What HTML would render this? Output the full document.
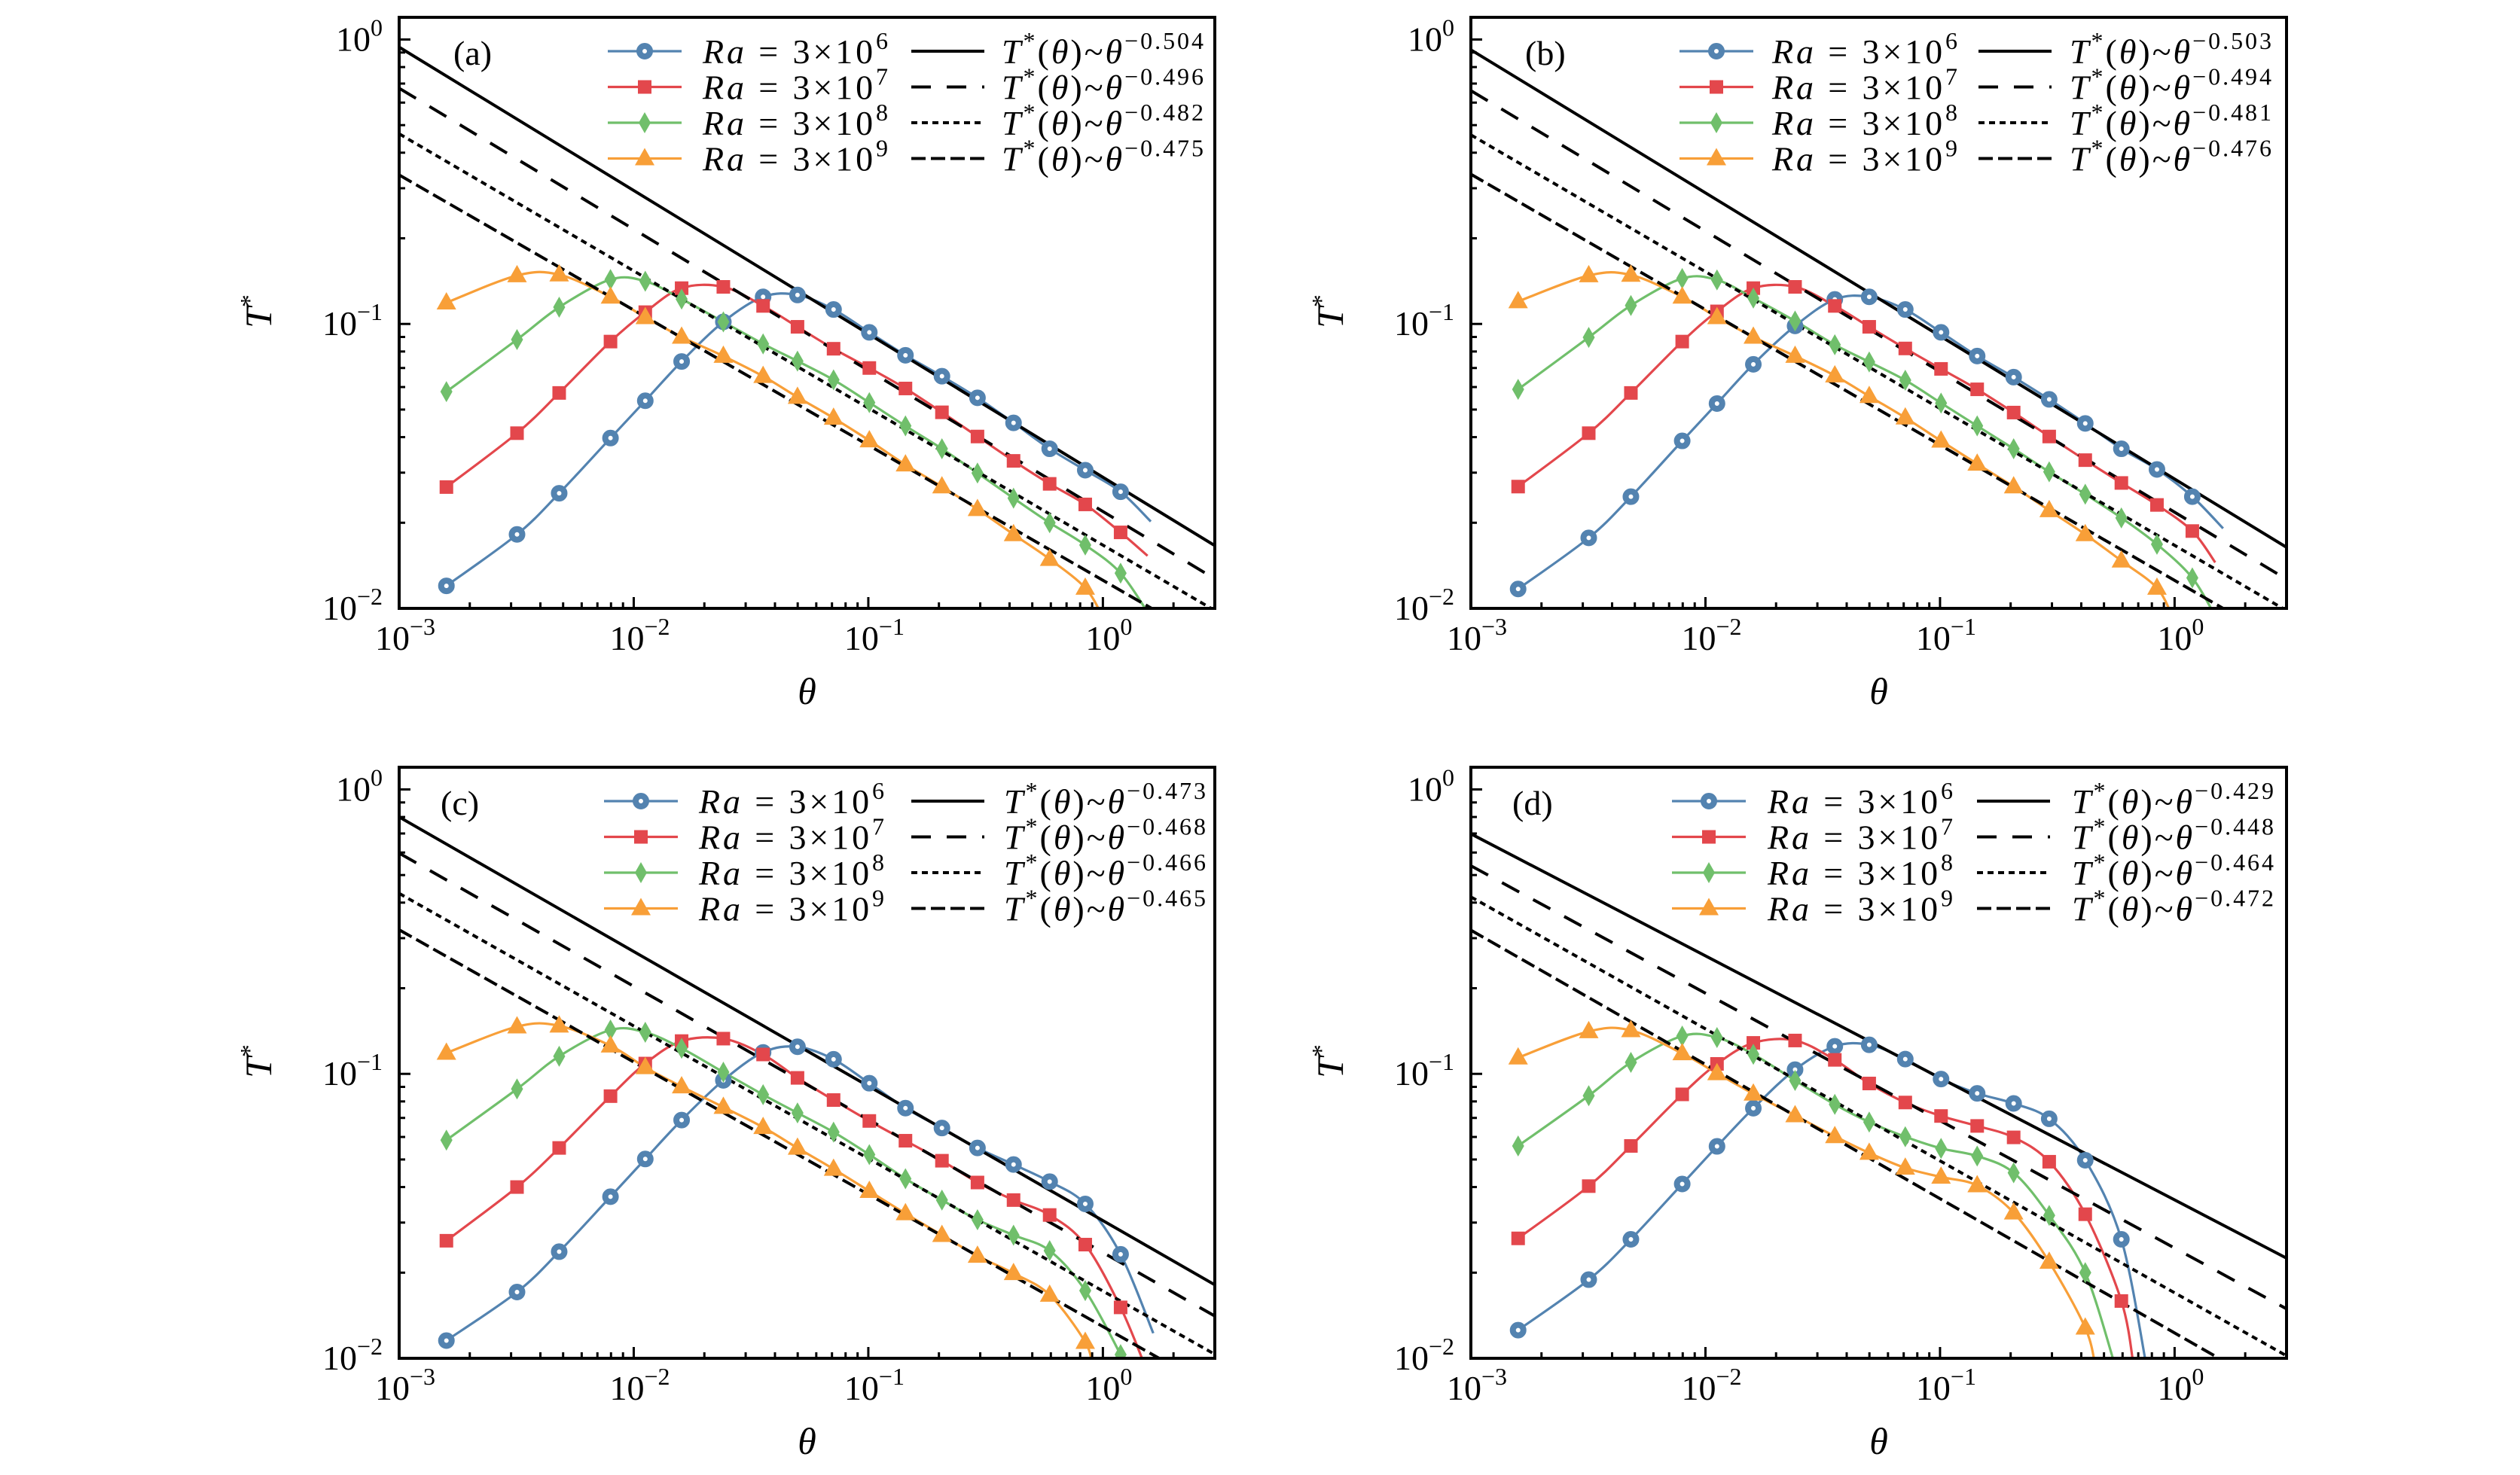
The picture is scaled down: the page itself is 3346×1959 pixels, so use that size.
<!DOCTYPE html>
<html><head><meta charset="utf-8"><style>
html,body{margin:0;padding:0;background:#fff;}
svg{display:block;font-family:"Liberation Serif",serif;}
svg text{font-family:"Liberation Serif",serif;}
</style></head><body>
<svg id="fig" width="3346" height="1959" viewBox="0 0 3346 1959" xmlns="http://www.w3.org/2000/svg" font-family="Liberation Serif, serif"></svg>
<script>
const theta = [0.00159,0.00318,0.00481,0.00796,0.0112,0.016,0.0241,0.0356,0.0499,0.0711,0.101,0.144,0.206,0.292,0.416,0.593,0.841,1.19];
const raLabels = ['6','7','8','9'];
// panel (a)
const blueA = [0.0120,0.0182,0.0254,0.0397,0.0537,0.0738,0.1017,0.1245,0.1264,0.1124,0.0934,0.0776,0.0655,0.0550,0.0449,0.0364,0.0306,0.0257];
const redA = [0.0267,0.0413,0.0572,0.0867,0.110,0.1336,0.135,0.1157,0.0977,0.0818,0.070,0.0593,0.0489,0.0402,0.0330,0.0274,0.0232,0.0185];
const greenA = [0.0578,0.0881,0.1145,0.1433,0.1413,0.1223,0.1017,0.0851,0.0740,0.0636,0.0529,0.0438,0.0364,0.0299,0.0244,0.0200,0.0167,0.0133];
const orangeA = [0.1188,0.148,0.149,0.1245,0.1055,0.090,0.0771,0.0655,0.0553,0.0467,0.0389,0.0320,0.0268,0.0223,0.0182,0.0149,0.0118];
const tailsA = [[1.6,0.0202],[1.55,0.0153],[1.6,0.0093],[1.0,0.0093]];
const fitExpA = [0.504,0.496,0.482,0.475];
const fitAmpA = [0.94,0.674,0.466,0.334];
// panel (b)
const blueB = [0.0117,0.0177,0.0247,0.0388,0.0525,0.0721,0.0984,0.122,0.1245,0.1124,0.0934,0.0771,0.065,0.0543,0.0447,0.0364,0.0308,0.0247];
const redB = [0.0268,0.0413,0.0572,0.0867,0.1107,0.1336,0.135,0.1157,0.0977,0.082,0.0695,0.0589,0.0488,0.0402,0.0332,0.0276,0.0231,0.0187];
const greenB = [0.0589,0.0897,0.1161,0.1445,0.1428,0.1233,0.1024,0.0845,0.0735,0.0634,0.0527,0.0438,0.0364,0.0302,0.0252,0.0208,0.0168,0.0128];
const orangeB = [0.120,0.148,0.1486,0.1245,0.1055,0.090,0.0771,0.0658,0.0557,0.0468,0.0388,0.0322,0.0268,0.0221,0.0182,0.0147,0.0118];
const tailsB = [[1.61,0.0191],[1.49,0.0145],[1.5,0.0093],[0.98,0.0093]];
const fitExpB = [0.503,0.494,0.481,0.476];
const fitAmpB = [0.92,0.661,0.462,0.336];
// panel (c)
const blueC = [0.01154,0.0171,0.0237,0.0370,0.0502,0.0688,0.0949,0.119,0.1245,0.1125,0.0927,0.0758,0.0645,0.0549,0.048,0.0418,0.0349,0.0232];
const redC = [0.0259,0.040,0.0549,0.0835,0.1087,0.1304,0.133,0.117,0.0968,0.0809,0.0683,0.0582,0.0495,0.0415,0.036,0.0319,0.0251,0.0151];
const greenC = [0.0585,0.0885,0.1153,0.1426,0.140,0.123,0.1014,0.0845,0.0729,0.0624,0.052,0.0428,0.036,0.0307,0.0271,0.0239,0.0173,0.0103];
const orangeC = [0.1184,0.1466,0.1476,0.1256,0.1054,0.0902,0.0764,0.0649,0.0549,0.0463,0.0387,0.0323,0.0271,0.0229,0.0199,0.0167,0.0114];
const tailsC = [[1.64,0.01225],[1.52,0.0093],[1.25,0.0093],[0.9,0.0093]];
const fitExpC = [0.473,0.468,0.466,0.465];
const fitAmpC = [0.80,0.597,0.431,0.321];
// panel (d)
const blueD = [0.01256,0.0189,0.0262,0.0410,0.0556,0.0757,0.1035,0.125,0.1265,0.1127,0.0959,0.0854,0.0787,0.0695,0.0497,0.0262];
const redD = [0.0264,0.0403,0.0558,0.0847,0.1084,0.1285,0.131,0.112,0.0925,0.0793,0.0711,0.0656,0.0598,0.0491,0.0321,0.0159];
const greenD = [0.0558,0.0838,0.1097,0.1358,0.1342,0.1172,0.0948,0.0781,0.0677,0.0601,0.0547,0.0514,0.0449,0.0318,0.0200];
const orangeD = [0.114,0.141,0.1422,0.118,0.1004,0.0851,0.0714,0.0603,0.0527,0.0467,0.0434,0.0405,0.0325,0.0218,0.0128];
const tailsD = [[0.76,0.0093],[0.67,0.0093],[0.56,0.0093],[0.46,0.0093]];
const fitExpD = [0.429,0.448,0.464,0.472];
const fitAmpD = [0.698,0.539,0.419,0.320];

const xTickExp = [-3,-2,-1,0];
const yTickExp = [-2,-1,0];

const NS = 'http://www.w3.org/2000/svg';
const svg = document.getElementById('fig');
const colors = ['#5383b0','#e3474c','#70bf6b','#f89f38'];
const markerKinds = ['circle','square','diamond','triangle'];
const fitDash = ['none','26 21','8 6','19 7'];
const FONT = '"Liberation Serif", serif';

function mk(tag, attrs, parent){
  const e = document.createElementNS(NS, tag);
  for (const k in attrs) e.setAttribute(k, attrs[k]);
  if (tag==='text') e.setAttribute('font-family', FONT);
  (parent||svg).appendChild(e);
  return e;
}

const panels = [
  {id:'a', left:530, top:23, series:[blueA,redA,greenA,orangeA], tails:tailsA, fe:fitExpA, fa:fitAmpA, leg:[277,403,680,800]},
  {id:'b', left:1953, top:23, series:[blueB,redB,greenB,orangeB], tails:tailsB, fe:fitExpB, fa:fitAmpB, leg:[277,400,674,795]},
  {id:'c', left:530, top:1019, series:[blueC,redC,greenC,orangeC], tails:tailsC, fe:fitExpC, fa:fitAmpC, leg:[272,398,680,803]},
  {id:'d', left:1953, top:1019, series:[blueD,redD,greenD,orangeD], tails:tailsD, fe:fitExpD, fa:fitAmpD, leg:[267,394,672,798]}
];
const W = 1083, H = 785;
const xMinL = -3, xMaxL = Math.log10(3);
const yMinL = -2, yMaxL = 0.078;

function crPath(pts){
  let d = 'M' + pts[0][0].toFixed(1) + ',' + pts[0][1].toFixed(1);
  for (let i=0;i<pts.length-1;i++){
    const p0 = pts[Math.max(0,i-1)], p1 = pts[i], p2 = pts[i+1], p3 = pts[Math.min(pts.length-1,i+2)];
    const c1 = [p1[0]+(p2[0]-p0[0])/6, p1[1]+(p2[1]-p0[1])/6];
    const c2 = [p2[0]-(p3[0]-p1[0])/6, p2[1]-(p3[1]-p1[1])/6];
    d += 'C'+c1[0].toFixed(1)+','+c1[1].toFixed(1)+' '+c2[0].toFixed(1)+','+c2[1].toFixed(1)+' '+p2[0].toFixed(1)+','+p2[1].toFixed(1);
  }
  return d;
}

function drawMarker(g, kind, cx, cy, col){
  let m;
  if (kind==='circle') m = mk('circle',{cx:cx,cy:cy,r:7,fill:'#fff',stroke:col,'stroke-width':8},g);
  else if (kind==='square') m = mk('rect',{x:cx-9,y:cy-9,width:18,height:18,fill:col},g);
  else if (kind==='diamond') m = mk('polygon',{points:`${cx},${cy-14} ${cx+8},${cy} ${cx},${cy+14} ${cx-8},${cy}`,fill:col},g);
  else m = mk('polygon',{points:`${cx},${cy-14} ${cx+13},${cy+9} ${cx-13},${cy+9}`,fill:col},g);
  return m;
}

function powLabel(parent, x, y, exp, anchor){
  const t = mk('text',{x:x,y:y,'font-size':46,'text-anchor':anchor,fill:'#000'},parent);
  const a = mk('tspan',{},t); a.textContent = '10';
  const b = mk('tspan',{dy:-20,'font-size':32}, t); b.textContent = (exp<0?'\u2212':'') + Math.abs(exp);
  return t;
}

panels.forEach((P, pi) => {
  const g = mk('g',{});
  
  
  const X = v => P.left + (Math.log10(v)-xMinL)/(xMaxL-xMinL)*W;
  const Y = v => P.top + (yMaxL-Math.log10(v))/(yMaxL-yMinL)*H;
  const clipId = 'clip'+P.id;
  const cp = mk('clipPath',{id:clipId},g);
  mk('rect',{x:P.left,y:P.top,width:W,height:H},cp);
  const plot = mk('g',{'clip-path':'url(#'+clipId+')'},g);
  
  

  P.series.forEach((arr, si) => {
    const pts = arr.map((v,i)=>[X(theta[i]), Y(v)]);
    pts.push([X(P.tails[si][0]), Y(P.tails[si][1])]);
    const path = mk('path',{d:crPath(pts),fill:'none',stroke:colors[si],'stroke-width':3.2},plot);
    
    
  });
  P.fe.forEach((p, fi) => {
    const x0 = 0.001, x1 = 3;
    const y0 = P.fa[fi], y1 = P.fa[fi]*Math.pow(x1/x0, -p);
    const attrs = {x1:X(x0),y1:Y(y0),x2:X(x1),y2:Y(y1),stroke:'#000','stroke-width':4};
    if (fitDash[fi]!=='none') attrs['stroke-dasharray'] = fitDash[fi];
    const l = mk('line',attrs,plot);
    
    
  });
  P.series.forEach((arr, si) => {
    arr.forEach((v,i) => {
      const m = drawMarker(plot, markerKinds[si], X(theta[i]), Y(v), colors[si]);
      
      
    });
  });

  const tk = mk('g',{stroke:'#000','stroke-width':3},g);
  
  
  for (let e=-3;e<=0;e++){
    for (let k=1;k<=9;k++){
      const v = k*Math.pow(10,e);
      if (v>3.0001) continue;
      const x = X(v), len = k===1?15:8;
      mk('line',{x1:x,y1:P.top+H,x2:x,y2:P.top+H-len},tk);
    }
  }
  for (let e=-2;e<=0;e++){
    for (let k=1;k<=9;k++){
      const v = k*Math.pow(10,e);
      if (Math.log10(v)>yMaxL) continue;
      const y = Y(v), len = k===1?15:8;
      mk('line',{x1:P.left,y1:y,x2:P.left+len,y2:y},tk);
    }
  }
  const fr = mk('rect',{x:P.left,y:P.top,width:W,height:H,fill:'none',stroke:'#000','stroke-width':4},g);
  
  

  xTickExp.forEach(e => {
    const t = powLabel(g, X(Math.pow(10,e))+8, P.top+H+55, e, 'middle');
    
    
  });
  yTickExp.forEach(e => {
    const t = powLabel(g, P.left-22, Y(Math.pow(10,e))+15, e, 'end');
    
    
  });
  const xl = mk('text',{x:P.left+W/2,y:P.top+H+127,'font-size':50,'font-style':'italic','text-anchor':'middle'},g);
  xl.textContent = '\u03b8';
  
  
  const cyy = P.top+H/2-2;
  const yl = mk('text',{x:0,y:0,'font-size':50,'text-anchor':'middle',transform:`translate(${P.left-170},${cyy}) rotate(-90)`},g);
  const ya = mk('tspan',{'font-style':'italic'},yl); ya.textContent='T';
  const yb = mk('tspan',{dy:-18,'font-size':34},yl); yb.textContent='*';
  
  

  const pl = mk('text',{x:P.left+(P.id==='a'||P.id==='b'?72:55),y:P.top+63,'font-size':46},g);
  pl.textContent = '(' + P.id + ')';
  
  

  const lg = mk('g',{},g);
  
  
  const rows = [45,92.5,140,187.5];
  rows.forEach((ry, ri) => {
    const y = P.top + ry;
    const lx = P.left + P.leg[0];
    const hl = mk('line',{x1:lx,y1:y,x2:lx+98,y2:y,stroke:colors[ri],'stroke-width':3.2},lg);
    
    
    drawMarker(lg, markerKinds[ri], lx+49, y, colors[ri]);
    const t = mk('text',{x:P.left+P.leg[1],y:y+16,'font-size':46,textLength:246,lengthAdjust:'spacing'},lg);
    const t1 = mk('tspan',{'font-style':'italic'},t); t1.textContent='Ra';
    const t2 = mk('tspan',{},t); t2.textContent=' = 3\u00d710';
    const t3 = mk('tspan',{dy:-19,'font-size':32},t); t3.textContent=raLabels[ri];
    
    

    const fx = P.left + P.leg[2];
    const fa = {x1:fx,y1:y,x2:fx+97,y2:y,stroke:'#000','stroke-width':4};
    if (fitDash[ri]!=='none') fa['stroke-dasharray'] = fitDash[ri];
    const fl = mk('line',fa,lg);
    
    
    const ft = mk('text',{x:P.left+P.leg[3],y:y+16,'font-size':46,textLength:268,lengthAdjust:'spacing'},lg);
    const f1 = mk('tspan',{'font-style':'italic'},ft); f1.textContent='T';
    const f2 = mk('tspan',{dy:-19,'font-size':32},ft); f2.textContent='*';
    const f3 = mk('tspan',{dy:19},ft); f3.textContent='(';
    const f4 = mk('tspan',{'font-style':'italic'},ft); f4.textContent='\u03b8';
    const f5 = mk('tspan',{},ft); f5.textContent=')~';
    const f6 = mk('tspan',{'font-style':'italic'},ft); f6.textContent='\u03b8';
    const f7 = mk('tspan',{dy:-19,'font-size':32},ft); f7.textContent='\u2212'+P.fe[ri].toFixed(3);
    
    
  });
});
</script>
</body></html>
